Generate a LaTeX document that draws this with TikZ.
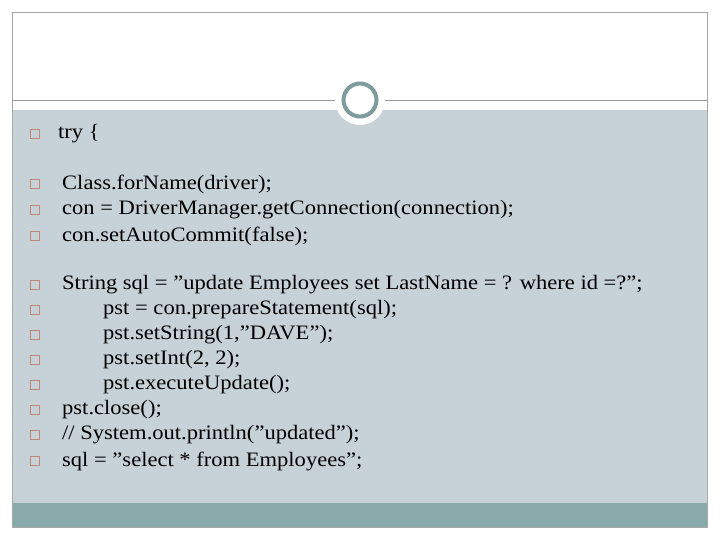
\documentclass[tikz,border=0pt]{standalone}
\usepackage{fontspec}
\setmainfont{Liberation Serif}[FakeStretch=1.1,Ligatures=ResetAll]
\definecolor{body}{HTML}{C6D1D8}
\definecolor{bar}{HTML}{8AABAB}
\definecolor{ring}{HTML}{7E9C9C}
\definecolor{bulc}{HTML}{C08878}
\newcommand{\qq}{\symbol{34}}
\begin{document}
\begin{tikzpicture}[x=1pt,y=-1pt,
  txt/.style={anchor=west,inner sep=0pt,font=\fontsize{20.5}{22}\selectfont},
  bul/.style={draw=bulc,line width=0.6pt,minimum size=9pt,inner sep=0pt,anchor=center}]
\useasboundingbox (0,0) rectangle (720,540);
\fill[white] (0,0) rectangle (720,540);
\fill[body] (12,110) rectangle (707,503);
\fill[bar] (12,503) rectangle (707,527);
\draw[gray!70] (12,12) rectangle (707,527);
\draw[gray!80,line width=0.8pt] (12,100) -- (707,100);
\fill[white] (360,100) circle (25);
\node[circle,draw=ring,line width=4pt,minimum size=33pt,inner sep=0pt] (c) at (360,100) {};
\foreach \y/\x/\t [count=\i] in {
 134/58/{try \{},
 184/62/{Class.forName(driver);},
 210/62/{con = DriverManager.getConnection(connection);},
 236/62/{con.setAutoCommit(false);},
 285/62/{String sql = \qq update Employees set LastName = ? where id =?\qq;},
 310/103/{pst = con.prepareStatement(sql);},
 335/103/{pst.setString(1,\qq DAVE\qq);},
 360/103/{pst.setInt(2, 2);},
 385/103/{pst.executeUpdate();},
 410/62/{pst.close();},
 435/62/{// System.out.println(\qq updated\qq);},
 461/62/{sql = \qq select * from Employees\qq;}} {
  \node[bul] (b\i) at (35,\y) {};
  \node[txt] (t\i) at (\x,\y) {\t};
}
\end{tikzpicture}
\end{document}
